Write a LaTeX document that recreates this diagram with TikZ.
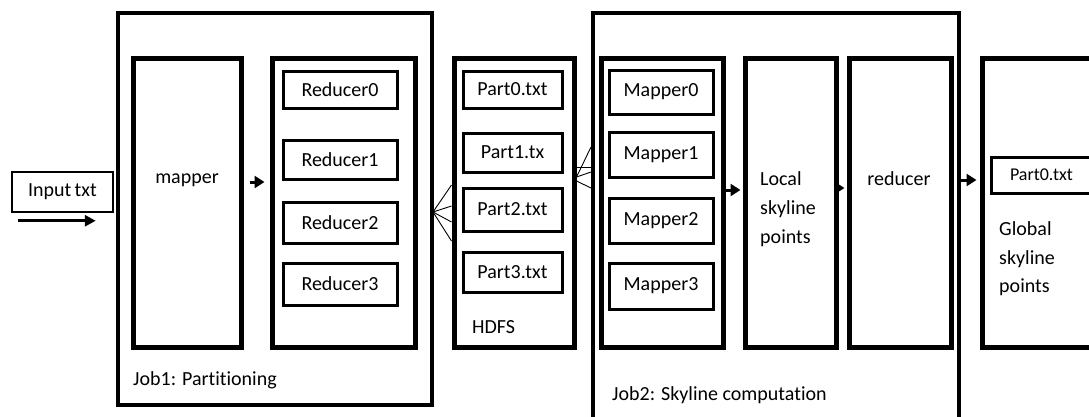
\documentclass[tikz,border=0pt]{standalone}
\usepackage{fontspec}
\setmainfont{Carlito}[Ligatures={NoCommon}]
\usetikzlibrary{arrows.meta}
\begin{document}
\begin{tikzpicture}[x=1pt,y=-1pt,
  txt/.style={font=\fontsize{20}{24}\selectfont},
  jobbox/.style={draw, line width=4pt, inner sep=0pt},
  stagebox/.style={draw, line width=5pt, inner sep=0pt},
  itembox/.style={draw, line width=3pt, inner sep=0pt, txt},
  lbl/.style={inner sep=0pt, txt},
  flow/.style={line width=3pt, -{Triangle[length=10pt,width=12pt]}},
  fanline/.style={line width=0.9pt}
]
\useasboundingbox (0,0) rectangle (1089,416);
\clip (0,0) rectangle (1089,416);

% input file
\node[draw, line width=1.5pt, inner sep=0pt, txt, minimum width=101pt, minimum height=40pt] (input) at (62.5,192) {Input\,txt};

% job 1: partitioning
\node[jobbox, minimum width=314pt, minimum height=392pt] (job1) at (275,209) {};
\node[stagebox, minimum width=108pt, minimum height=289pt] (mapper) at (187,202.5) {};
\node[lbl, anchor=base] (mapperlbl) at (187,183) {mapper};
\node[stagebox, minimum width=143pt, minimum height=289pt] (reducers) at (343.5,202.5) {};
\node[itembox, minimum width=114pt, minimum height=37pt] (r0) at (340,89.5) {Reducer0};
\node[itembox, minimum width=114pt, minimum height=39pt] (r1) at (340,159.5) {Reducer1};
\node[itembox, minimum width=114pt, minimum height=41pt] (r2) at (340,222.5) {Reducer2};
\node[itembox, minimum width=114pt, minimum height=42pt] (r3) at (340,284) {Reducer3};
\node[lbl, anchor=base west] (job1lbl) at (133,385) {Job1: Partitioning};

% HDFS
\node[stagebox, minimum width=120pt, minimum height=289pt] (hdfs) at (514,202.5) {};
\node[itembox, minimum width=99pt, minimum height=37pt] (p0) at (512.5,89.5) {Part0.txt};
\node[itembox, minimum width=99pt, minimum height=39pt] (p1) at (512.5,152.5) {Part1.tx};
\node[itembox, minimum width=99pt, minimum height=43pt] (p2) at (512.5,209.5) {Part2.txt};
\node[itembox, minimum width=99pt, minimum height=40pt] (p3) at (512.5,272) {Part3.txt};
\node[lbl, anchor=base west] (hdfslbl) at (472,333) {HDFS};

% job 2: skyline computation
\node[jobbox, minimum width=366pt, minimum height=437pt] (job2) at (776,231.5) {};
\node[stagebox, minimum width=122pt, minimum height=289pt] (mappers) at (662,202.5) {};
\node[itembox, minimum width=104pt, minimum height=44pt] (m0) at (661,92) {Mapper0};
\node[itembox, minimum width=104pt, minimum height=45pt] (m1) at (661,154.5) {Mapper1};
\node[itembox, minimum width=104pt, minimum height=45pt] (m2) at (661,220.5) {Mapper2};
\node[itembox, minimum width=104pt, minimum height=46pt] (m3) at (661,286) {Mapper3};
\node[stagebox, minimum width=91pt, minimum height=289pt] (local) at (790.5,202.5) {};
\node[lbl, anchor=base west] (local1) at (760,185) {Local};
\node[lbl, anchor=base west] (local2) at (760,214) {skyline};
\node[lbl, anchor=base west] (local3) at (760,243) {points};
\node[stagebox, minimum width=102pt, minimum height=289pt] (reducer) at (900,202.5) {};
\node[lbl, anchor=base] (reducerlbl) at (899,185) {reducer};
\node[lbl, anchor=base west] (job2lbl) at (612,400) {Job2: Skyline computation};

% global result
\node[stagebox, minimum width=148pt, minimum height=289pt] (global) at (1056,202.5) {};
\node[itembox, minimum width=101pt, minimum height=36pt, font=\fontsize{18}{22}\selectfont] (gpart) at (1041.5,175) {Part0.txt};
\node[lbl, anchor=base west] (global1) at (999,235) {Global};
\node[lbl, anchor=base west] (global2) at (999,264) {skyline};
\node[lbl, anchor=base west] (global3) at (999,292) {points};

% arrows
\draw[line width=3pt, -{Triangle[length=11pt,width=11pt]}] ([xshift=7pt,yshift=-8pt]input.south west) -- ([xshift=-18pt,yshift=-8pt]input.south east);
\draw[flow] ([xshift=6pt,yshift=20.5pt]mapper.east) -- ([xshift=-5pt,yshift=20.5pt]reducers.west);
\draw[flow] ([yshift=12.5pt]mappers.east) -- ([xshift=-2pt,yshift=12.5pt]local.west);
\draw[flow] ([yshift=14.5pt]local.east) -- ([xshift=-2pt,yshift=14.5pt]reducer.west);
\draw[flow] ([yshift=51.5pt]job2.east) -- ([xshift=-3pt,yshift=22.5pt]global.west);

% partition fan-out into HDFS
\coordinate (fanl) at (433,212);
\draw[fanline] (fanl) -- ([yshift=17.5pt]hdfs.west);
\draw[fanline] (fanl) -- ([yshift=-3.5pt]hdfs.west);
\draw[fanline] (fanl) -- ([yshift=-19.5pt]hdfs.west);
\draw[fanline] (fanl) -- ([yshift=-38.5pt]hdfs.west);

% HDFS fan-in to the mappers
\draw[fanline] ([yshift=25.5pt]hdfs.east) -- ([yshift=84.5pt]job2.west);
\draw[fanline] ([yshift=35.5pt]hdfs.east) -- ([yshift=64.5pt]job2.west);
\draw[fanline] ([yshift=25.5pt]hdfs.east) -- ([yshift=59.5pt]job2.west);
\draw[fanline] ([yshift=21.5pt]hdfs.east) -- ([yshift=43.5pt]job2.west);
\end{tikzpicture}
\end{document}
